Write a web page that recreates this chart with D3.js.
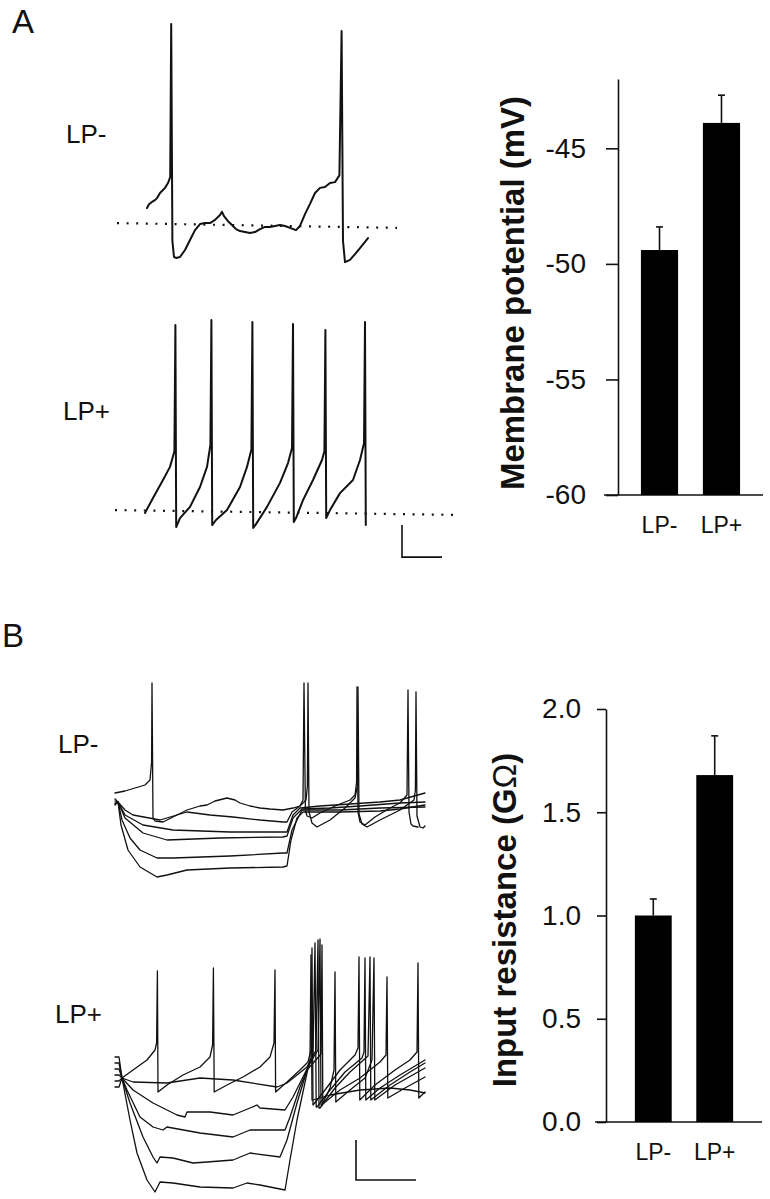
<!DOCTYPE html>
<html><head><meta charset="utf-8">
<script src="https://cdn.jsdelivr.net/npm/d3@7"></script>
<style>
html,body{margin:0;padding:0;background:#fff;}
svg{display:block;font-family:"Liberation Sans",Arial,Helvetica,sans-serif;}
</style></head><body>
<svg id="fig" width="770" height="1199"></svg>
<script>
// ---------------- DATA ----------------
const categories = ["LP-", "LP+"];
const membraneMean = [-49.4, -43.9];      // mV
const membraneErr  = [1.0, 1.2];
const membraneTicks = [-60, -55, -50, -45];
const resistanceMean = [1.0, 1.68];       // GOhm
const resistanceErr  = [0.08, 0.19];
const resistanceTicks = [0.0, 0.5, 1.0, 1.5, 2.0];

// Panel A traces: [time ms, membrane potential mV]
const traceA_LPminus = [[160,-44.7],[170,-43.5],[185,-42.8],[200,-42.2],[210,-41.6],[225,-40],[250,-38.4],[265,-36.9],[276,-35],[281,12.8],[287,-55],[295,-60],[305,-60.3],[325,-60],[350,-57.8],[375,-54.7],[400,-51.6],[425,-49.7],[450,-49.4],[475,-49.4],[500,-48.4],[525,-46.9],[535,-45.9],[545,-47.2],[565,-48.8],[585,-50],[605,-51.3],[625,-51.9],[650,-52.2],[675,-52.5],[700,-52.2],[725,-51.3],[750,-50.6],[775,-50.6],[800,-50.3],[825,-50],[850,-50.3],[875,-50.9],[905,-51.6],[925,-50.3],[950,-46.6],[975,-43.4],[1000,-40],[1025,-38.4],[1050,-38.1],[1075,-36.9],[1100,-36.6],[1122,-34.5],[1133,10.6],[1140,-55],[1150,-61.6],[1175,-60.9],[1200,-59.1],[1225,-57.2],[1250,-55.3],[1265,-54.1]];
const traceA_LPplus = [[150,-50.3],[190,-45.6],[240,-40],[275,-35.9],[297,-31],[302,8.4],[306,-54.7],[325,-51.9],[375,-48.4],[425,-42.2],[460,-35.9],[477,-29],[482,10],[486,-54.1],[505,-52.5],[560,-49.4],[625,-42.2],[660,-35.9],[682,-30.5],[687,9.4],[691,-55],[705,-53.8],[760,-48.4],[825,-40.9],[865,-34.7],[885,-30],[890,8.75],[894,-53.1],[905,-51.9],[940,-46.3],[990,-40],[1035,-33.75],[1047,-31],[1052,6.9],[1056,-51.9],[1075,-49.4],[1125,-44.1],[1190,-40],[1225,-33.75],[1245,-28.5],[1250,9.4],[1254,-54.1]];
const refA_LPminus = [[10,-49.4],[1410,-50.9]];
const refA_LPplus  = [[0,-49.4],[1690,-50.9]];
const scaleBarA = {ms: 200, mV: 10, t0: 1435, v0: -54.1};

// Panel B traces (LP-), one array per current step
const traceB_LPminus = [
  [[0,-45.5],[50,-44.5],[100,-43],[150,-41.5],[175,-39],[183,-30],[185,9.5],[190,-58],[200,-59.5],[240,-60],[300,-57],[360,-54],[425,-52],[460,-51.5],[500,-49.5],[560,-48],[600,-49],[625,-50.5],[675,-52],[725,-53],[775,-53.5],[840,-54],[890,-53],[925,-52],[940,-49],[945,9.5],[952,-54],[960,-57],[985,-58],[1025,-55.5],[1100,-52],[1175,-49],[1200,-46.5],[1208,-40],[1210,7.5],[1215,-55],[1225,-60],[1250,-61.5],[1300,-57.5],[1375,-53],[1425,-50.5],[1460,-46.5],[1465,6],[1470,-55],[1480,-61],[1490,-62],[1515,-62.5]],
  [[0,-48.5],[15,-50],[50,-54],[90,-56.5],[225,-59],[360,-55],[475,-56.5],[590,-57.5],[725,-59],[840,-60],[860,-60],[885,-55],[925,-52],[955,-49],[962,-42],[965,9.5],[970,-55],[985,-60.5],[1010,-62.5],[1075,-59],[1150,-53],[1200,-48],[1212,-42],[1215,7.5],[1220,-56],[1235,-61],[1260,-62.5],[1325,-59],[1425,-54],[1495,-49],[1502,-44],[1505,5],[1510,-57],[1525,-62.5],[1540,-63],[1550,-62]],
  [[0,-49.5],[15,-50],[50,-56.5],[140,-61.5],[290,-64],[575,-65],[840,-65],[860,-65],[890,-56.5],[925,-53],[1025,-52],[1175,-51],[1325,-50],[1425,-49],[1550,-45.5]],
  [[0,-50.5],[15,-50],[50,-58],[140,-65.5],[260,-69],[525,-68],[840,-67.5],[860,-67],[890,-58],[935,-53.5],[1075,-53],[1225,-52],[1425,-50.5],[1550,-50]],
  [[0,-51],[15,-50],[35,-59],[75,-68],[125,-74],[210,-78],[290,-78],[575,-77],[840,-75.5],[860,-75.5],[885,-64],[935,-54],[1125,-54],[1325,-53],[1550,-52.5]],
  [[0,-51.5],[15,-50],[30,-61.5],[65,-74],[125,-82.5],[210,-87.5],[260,-86.5],[360,-84],[575,-83],[840,-82.5],[860,-82],[880,-69],[910,-58],[940,-55],[1125,-55],[1325,-54.5],[1425,-53.5],[1550,-51.5]]
];
// Panel B traces (LP+)
const traceB_LPplus = [
  [[0,-39.5],[20,-39.5],[35,-50],[90,-46],[160,-41],[200,-36],[208,-32.5],[212,3.5],[215,-57],[260,-53.5],[340,-48.5],[425,-44.5],[475,-39.5],[488,-33.5],[492,5],[496,-57],[560,-53.5],[640,-49.5],[725,-44.5],[775,-39.5],[795,-32.5],[800,4],[803,-57],[860,-52],[925,-46],[965,-42],[980,-36],[985,15],[990,-63.5],[1050,-56],[1125,-46],[1200,-38.5],[1215,-35],[1220,10.5],[1224,-61],[1300,-53.5],[1400,-46],[1475,-41],[1510,-37],[1515,7.5],[1519,-60],[1550,-57]],
  [[0,-42.5],[20,-42.5],[35,-50],[90,-52],[260,-52.5],[425,-50],[590,-51],[810,-54.5],[860,-52.5],[960,-44.5],[990,-38.5],[1000,17.5],[1006,-64.5],[1010,-64.5],[1075,-56],[1150,-47],[1235,-40],[1245,-37],[1250,10],[1254,-61],[1325,-55],[1425,-48.5],[1550,-41]],
  [[0,-45.5],[20,-45.5],[35,-50],[90,-56],[190,-62.5],[310,-68.5],[350,-69.5],[360,-67],[475,-67],[590,-68.5],[675,-65],[710,-63.5],[725,-65],[850,-66],[890,-59.5],[940,-49.5],[975,-42.5],[1005,-36],[1015,19],[1020,-65],[1025,-65],[1100,-55],[1175,-47],[1265,-39],[1275,10.5],[1279,-61],[1375,-53.5],[1475,-47],[1550,-42.5]],
  [[0,-48.5],[20,-48.5],[35,-50],[60,-56],[125,-69.5],[190,-74.5],[240,-76],[260,-74.5],[425,-77.5],[590,-79.5],[675,-76],[850,-76],[875,-69.5],[925,-54.5],[975,-42.5],[1015,-36],[1025,19.5],[1030,-63.5],[1035,-63.5],[1075,-55],[1095,-46],[1100,3],[1104,-62],[1175,-56],[1250,-50],[1285,-41],[1295,10],[1299,-61],[1400,-53.5],[1550,-45]],
  [[0,-51.5],[20,-51.5],[35,-50],[75,-62.5],[140,-79.5],[190,-89.5],[210,-92.5],[225,-89.5],[290,-90],[390,-92.5],[460,-92],[590,-91],[675,-87.5],[825,-89.5],[860,-81],[910,-62.5],[960,-46],[1030,-38],[1035,16.5],[1039,-62.5],[1045,-62.5],[1125,-56],[1225,-50],[1325,-42],[1355,-38.5],[1360,0.5],[1364,-60],[1450,-55],[1550,-49.5]],
  [[0,-54.5],[20,-54.5],[35,-50],[75,-71],[110,-87.5],[160,-101],[200,-107],[225,-102],[290,-102.5],[425,-104.5],[590,-105],[660,-102.5],[725,-103.5],[850,-106],[875,-91],[910,-71],[960,-47.5],[975,-41],[980,11.5],[985,-61],[990,-61],[1075,-58.5],[1225,-56],[1375,-55],[1475,-56],[1550,-57.5]]
];
const scaleBarB = {ms: 300, mV: 20, t0: 1205, v0: -81};

// ---------------- DRAWING ----------------
const svg = d3.select("#fig");
const ink = "#111";
svg.append("rect").attr("width",770).attr("height",1199).attr("fill","#fff");

function drawTrace(g, data, x, y, w) {
  g.append("path").datum(data)
    .attr("d", d3.line().x(d => x(d[0])).y(d => y(d[1])))
    .attr("fill","none").attr("stroke",ink).attr("stroke-width",w)
    .attr("stroke-linejoin","round").attr("stroke-linecap","round");
}
function drawRef(g, data, x, y) {
  g.append("path").datum(data)
    .attr("d", d3.line().x(d => x(d[0])).y(d => y(d[1])))
    .attr("fill","none").attr("stroke",ink).attr("stroke-width",2.2)
    .attr("stroke-dasharray","2,7.6");
}
function drawScaleBar(g, sb, x, y, w) {
  const pts = [[sb.t0, sb.v0],[sb.t0, sb.v0 - sb.mV],[sb.t0 + sb.ms, sb.v0 - sb.mV]];
  g.append("path").datum(pts)
    .attr("d", d3.line().x(d => x(d[0])).y(d => y(d[1])))
    .attr("fill","none").attr("stroke",ink).attr("stroke-width",w);
}
function label(text, x, y, size, opts={}) {
  return svg.append("text").attr("x",x).attr("y",y).attr("font-size",size)
    .attr("fill",ink).attr("text-anchor",opts.anchor||"start")
    .attr("font-weight",opts.weight||"normal").text(text);
}

// Panel letters
label("A", 12, 33, 33);
label("B", 2, 647, 33);

// ---- Panel A traces ----
const gA = svg.append("g");
const xA = d3.scaleLinear().domain([0,1700]).range([115,455]);
const yAm = d3.scaleLinear().domain([-50,0]).range([225,65]);
const yAp = d3.scaleLinear().domain([-50,0]).range([512,352]);
drawRef(gA, refA_LPminus, xA, yAm);
drawRef(gA, refA_LPplus, xA, yAp);
drawTrace(gA, traceA_LPminus, xA, yAm, 2);
drawTrace(gA, traceA_LPplus, xA, yAp, 2);
drawScaleBar(gA, scaleBarA, xA, yAp, 1.6);
label("LP-", 66, 143, 26);
label("LP+", 63, 420, 26);

// ---- Panel B traces ----
const gB = svg.append("g");
const xB = d3.scaleLinear().domain([0,1700]).range([115,455]);
const yBm = d3.scaleLinear().domain([-50,0]).range([802,702]);
const yBp = d3.scaleLinear().domain([-50,0]).range([1078,978]);
traceB_LPminus.forEach(t => drawTrace(gB, t, xB, yBm, 1.3));
traceB_LPplus.forEach(t => drawTrace(gB, t, xB, yBp, 1.3));
drawScaleBar(gB, scaleBarB, xB, yBp, 1.6);
label("LP-", 58, 753, 26);
label("LP+", 55, 1023, 26);

// ---- Bar chart helper ----
function barChart(cfg) {
  const g = svg.append("g");
  const y = d3.scaleLinear().domain(cfg.domain).range(cfg.yRange);
  const x = d3.scaleBand().domain(categories).range(cfg.xRange)
    .paddingInner(0.4).paddingOuter(cfg.pOuter);
  const ax = g.append("g").attr("transform",`translate(${cfg.xRange[0]},0)`)
    .call(d3.axisLeft(y).tickValues(cfg.ticks).tickSize(cfg.tickSize)
      .tickSizeOuter(0).tickPadding(cfg.tickPad).tickFormat(cfg.fmt));
  ax.selectAll("path,line").attr("stroke",ink).attr("stroke-width",1.6);
  ax.selectAll("text").attr("font-size",28).attr("fill",ink)
    .attr("font-family","'Liberation Sans',Arial,sans-serif");
  // baseline
  g.append("line").attr("x1",cfg.baseX[0]).attr("x2",cfg.baseX[1])
    .attr("y1",y(cfg.domain[0])).attr("y2",y(cfg.domain[0]))
    .attr("stroke",ink).attr("stroke-width",1.6);
  const bw = x.bandwidth();
  categories.forEach((c,i) => {
    const m = cfg.mean[i], e = cfg.err[i];
    const cx = x(c) + bw/2;
    g.append("line").attr("x1",cx).attr("x2",cx).attr("y1",y(m)).attr("y2",y(m+e))
      .attr("stroke",ink).attr("stroke-width",1.6);
    g.append("line").attr("x1",cx-3.5).attr("x2",cx+3.5).attr("y1",y(m+e)).attr("y2",y(m+e))
      .attr("stroke",ink).attr("stroke-width",1.6);
    g.append("rect").attr("x",x(c)).attr("width",bw).attr("y",y(m))
      .attr("height",y(cfg.domain[0]) - y(m)).attr("fill","#000");
    g.append("text").attr("x",cx).attr("y",cfg.catY).attr("text-anchor","middle")
      .attr("font-size",23).attr("fill",ink).text(c);
  });
  return {x, y};
}

barChart({domain:[-60,-42], yRange:[495,79], xRange:[618,763], pOuter:0.37,
  ticks: membraneTicks, tickSize:12, tickPad:20, fmt: d => String(d),
  baseX:[604,763], mean: membraneMean, err: membraneErr, catY:533});
const tA = svg.append("text").attr("transform","translate(524,293) rotate(-90)")
  .attr("text-anchor","middle").attr("font-size",33).attr("font-weight","bold")
  .attr("fill",ink).text("Membrane potential (mV)");

barChart({domain:[0,2], yRange:[1122,709], xRange:[606,762], pOuter:0.47,
  ticks: resistanceTicks, tickSize:9, tickPad:16, fmt: d => d.toFixed(1),
  baseX:[595,762], mean: resistanceMean, err: resistanceErr, catY:1160});
const tB = svg.append("text").attr("transform","translate(516,920) rotate(-90)")
  .attr("text-anchor","middle").attr("font-size",33).attr("font-weight","bold")
  .attr("fill",ink);
tB.append("tspan").text("Input resistance (G");
tB.append("tspan").attr("font-weight","normal").text("Ω");
tB.append("tspan").text(")");
</script>
</body></html>
